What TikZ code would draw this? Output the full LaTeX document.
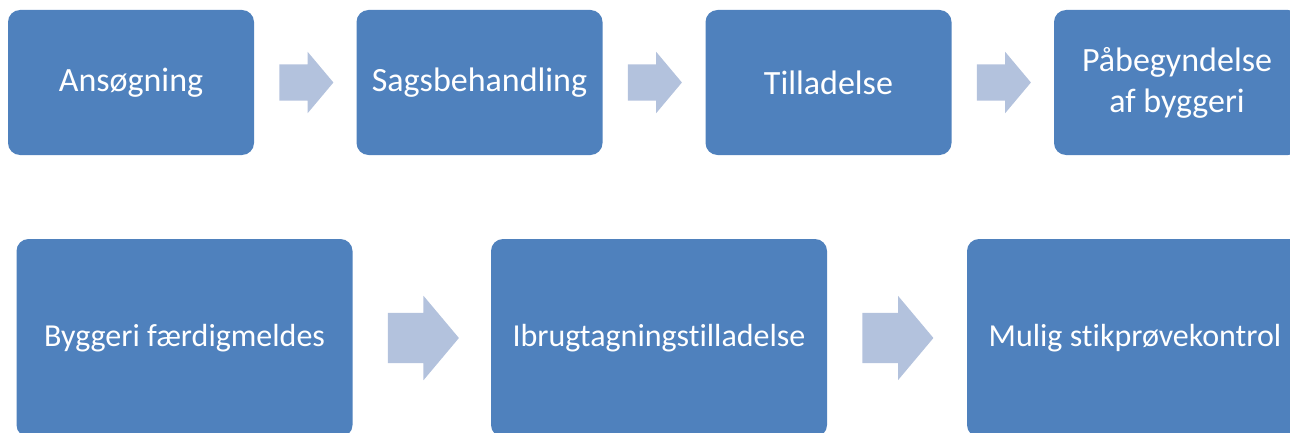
\documentclass[tikz,border=0pt]{standalone}
\usepackage{fontspec}
\setmainfont[Ligatures=NoCommon]{Carlito}
\usetikzlibrary{shapes.arrows,calc}
\definecolor{boxblue}{RGB}{79,129,189}
\definecolor{arrowblue}{RGB}{179,194,221}
\tikzset{
  stepbox/.style={fill=boxblue,draw=none,rounded corners=12pt,text=white,align=center,inner sep=0pt},
  blockarrow/.style={single arrow,fill=arrowblue,draw=none,inner xsep=0pt,single arrow head indent=0pt,
    single arrow tip angle=100,anchor=tail}
}
\begin{document}
\begin{tikzpicture}[x=1pt,y=-1pt]
				\useasboundingbox (0,0) rectangle (1290,433);
				% top row
				\tikzset{every node/.append style={font=\fontsize{34}{41}\selectfont}}
				\node[stepbox,minimum width=246pt,minimum height=145pt] (ans) at (131,82.5) {Ansøgning};
				\node[stepbox,minimum width=246pt,minimum height=145pt] (sag) at (479.5,82.5) {Sagsbehandling};
				\node[stepbox,minimum width=246pt,minimum height=145pt] (til) at (828.5,82.5) {Tilladelse};
				\node[stepbox,minimum width=246pt,minimum height=145pt] (paa) at (1177,82.5) {Påbegyndelse\\af byggeri};
				% bottom row
				\tikzset{every node/.append style={font=\fontsize{32}{39}\selectfont}}
				\node[stepbox,minimum width=336pt,minimum height=198pt] (fae) at (184.5,338) {Byggeri færdigmeldes};
				\node[stepbox,minimum width=336pt,minimum height=198pt] (ibr) at (659,338) {Ibrugtagningstilladelse};
				\node[stepbox,minimum width=336pt,minimum height=198pt] (mul) at (1135,338) {Mulig stikprøvekontrol};
				% arrows
				\foreach \a/\n in {ans/p1,sag/p2,til/p3}
					\node[blockarrow,minimum height=54pt,inner ysep=18pt,single arrow head extend=12.5pt] (\n) at ($(\a.east)+(25,0)$) {};
				\foreach \a/\n in {fae/p4,ibr/p5}
					\node[blockarrow,minimum height=71pt,inner ysep=25pt,single arrow head extend=17pt] (\n) at ($(\a.east)+(35,0)$) {};
\end{tikzpicture}
\end{document}
